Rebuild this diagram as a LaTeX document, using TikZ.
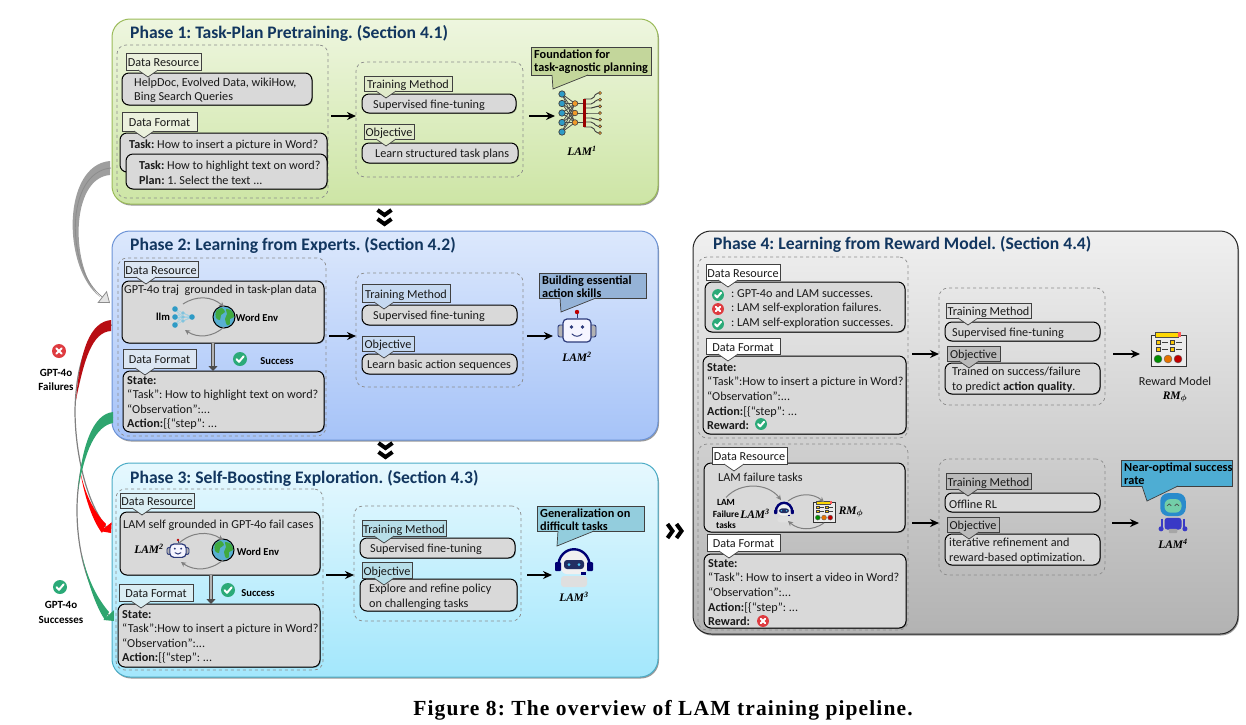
\documentclass[tikz,border=0pt]{standalone}
\usepackage{amsmath, amssymb}
\usepackage{fontspec}
\setmainfont{Carlito}
\newfontfamily\capfont{Liberation Serif}
\newfontfamily\bigcapfont[LetterSpace=5.2]{Liberation Serif}
\usetikzlibrary{arrows, arrows.meta, positioning, shadows}
\frenchspacing

\definecolor{titleblue}{HTML}{12365F}
\definecolor{okgreen}{HTML}{2BAA78}
\definecolor{badred}{HTML}{DE3B40}
\definecolor{navy}{HTML}{2C3A7A}
\definecolor{netblue}{HTML}{2E9BC6}
\definecolor{netorange}{HTML}{F09A2A}
\definecolor{flowred}{HTML}{D80F16}
\definecolor{flowgreen}{HTML}{2FA56F}
\definecolor{limetop}{HTML}{EEF6DF}
\definecolor{limebot}{HTML}{CDE5A5}
\definecolor{limeline}{HTML}{9BBB59}
\definecolor{limesay}{HTML}{C3D69B}
\definecolor{limetag}{HTML}{EBF1DD}
\definecolor{limetagb}{HTML}{E1EBCB}
\definecolor{bluetop}{HTML}{DCE8FC}
\definecolor{bluebot}{HTML}{A6C3F8}
\definecolor{blueline}{HTML}{6C93D6}
\definecolor{bluesay}{HTML}{95B3D7}
\definecolor{bluetag}{HTML}{DCE6F2}
\definecolor{bluetagb}{HTML}{C6D9F1}
\definecolor{cyantop}{HTML}{E6F8FE}
\definecolor{cyanbot}{HTML}{A3E7FC}
\definecolor{cyanline}{HTML}{4BACC6}
\definecolor{cyansay}{HTML}{93CDDD}
\definecolor{cyantag}{HTML}{DAEEF3}
\definecolor{cyantagb}{HTML}{B7DEE8}
\definecolor{skysay}{HTML}{4EADD3}

\tikzset{
    okicon/.pic={
        \fill[okgreen] (0,0) circle (7);
        \draw[white, line width=2pt, line cap=round, line join=round] (-3.4,.2) -- (-1,2.8) -- (3.6,-2.6);
    },
    badicon/.pic={
        \fill[badred] (0,0) circle (7);
        \draw[white, line width=2pt, line cap=round] (-2.6,-2.6) -- (2.6,2.6) (-2.6,2.6) -- (2.6,-2.6);
    },
    globeicon/.pic={
        \fill[netblue!80] (0,0) circle (11);
        \fill[green!55!black!75] plot[smooth cycle] coordinates {(-8,-6) (-2,-9) (1,-5) (-3,-2) (-4,3) (-8,1)};
        \fill[green!55!black!75] plot[smooth cycle] coordinates {(2,-8) (8,-6) (10,0) (6,2) (6,7) (3,8) (1,2) (3,-3)};
        \draw[black, line width=1pt] (0,0) circle (11);
    },
    neticon/.pic={
        \foreach \ya in {-19,-9.5,0,9.5,19}
            \foreach \yb in {-9.5,0,9.5}
                \draw[black!70, line width=.8pt] (-20,\ya) -- (-7,\yb);
        \foreach \yb in {-9.5,0,9.5}
            \draw[black!70, line width=.8pt] (-7,\yb) -- (2,\yb);
        \foreach \ya/\yc in {-14/-20,-9/-13.3,-5/-6.7,0/0,5/6.7,9/13.3,14/20}
            \draw[black!75, line width=.9pt, rounded corners=2] (2,\ya) -- (11,\ya) -- (14,\yc) -- (18,\yc);
        \foreach \ya in {-19,-9.5,0,9.5,19}
            \filldraw[fill=netblue, draw=black!75, line width=.7pt] (-20,\ya) circle (3.2);
        \foreach \yb in {-9.5,0,9.5}
            \filldraw[fill=netorange, draw=black!75, line width=.6pt] (-7,\yb) circle (2.8);
        \foreach \yc in {-20,-13.3,-6.7,0,6.7,13.3,20}
            \filldraw[fill=netorange, draw=black!75, line width=.5pt] (18,\yc) circle (1.6);
        \fill[red!60!black] (.5,-14) rectangle (3.5,14);
    },
    llmicon/.pic={
        \foreach \ya in {-8,0,8}
            \foreach \yb in {-4,0,4}
                \draw[netblue!45, line width=.6pt] (-8,\ya) -- (0,\yb) -- (9,0);
        \foreach \ya in {-8,0,8} \fill[netblue] (-8,\ya) circle (2.8);
        \foreach \yb in {-4,0,4} \fill[netblue!60] (0,\yb) circle (1.9);
        \fill[netblue] (9,0) circle (2.8);
    },
    boticon/.pic={
        \draw[navy, line width=.9pt] (0,-13) -- (0,-18);
        \fill[red!75!black] (0,-19) circle (2.2);
        \filldraw[fill=gray!60, draw=navy, line width=.9pt, rounded corners=2] (-19,-6) rectangle (19,6);
        \filldraw[fill=blue!4, draw=navy, line width=1.2pt, rounded corners=4] (-14,-12) rectangle (14,11);
        \fill[navy] (-5.5,-4) circle (1.8) (5.5,-4) circle (1.8);
        \draw[navy, line width=1pt, line cap=round] (-5,3) .. controls (-2,6) and (2,6) .. (5,3);
    },
    headseticon/.pic={
        \fill[gray!25, rounded corners=3] (-13,11) rectangle (13,22);
        \fill[gray!12, rounded corners=6] (-13,-14) rectangle (13,9);
        \draw[blue!45!black, line width=2.4pt] (-16,3) .. controls (-16,-22) and (16,-22) .. (16,3);
        \fill[blue!45!black, rounded corners=1] (-19,-3) rectangle (-13,6) (13,-3) rectangle (19,6);
        \fill[navy!80!black, rounded corners=3] (-10,-5) rectangle (10,4);
        \fill[cyan!70!white] (-5,-.5) circle (1.5) (5,-.5) circle (1.5);
        \fill[blue!45!black] (7,7) rectangle (12,9.5);
    },
    blueicon/.pic={
        \draw[blue!55!gray, line width=1.2pt] (-13,16) -- (-13,28) (13,16) -- (13,28);
        \fill[blue!55!gray] (-14,28) circle (3) (14,28) circle (3);
        \fill[blue!55!gray, rounded corners=3] (-10,15) rectangle (10,29);
        \fill[gray!70, rounded corners=1] (-5,28) rectangle (5,33);
        \fill[netblue!90!blue, rounded corners=8] (-15,-14) rectangle (15,13);
        \fill[cyan!30!green!55!white, rounded corners=6] (-10,-7) rectangle (10,9);
        \draw[black!70, line width=.7pt] (-7,1) .. controls (-6,-2) and (-3,-2) .. (-2,1) (2,1) .. controls (3,-2) and (6,-2) .. (7,1);
    },
    rmicon/.pic={
        \filldraw[fill=gray!15, draw=black!80, line width=.8pt] (-17,-15) rectangle (18,16);
        \filldraw[fill=yellow!75!orange, draw=black!70, line width=.5pt] (-13,-18) rectangle (10,-13);
        \fill[red!65] (10,-18) rectangle (13,-13);
        \foreach \ya in {-8,-1}
            \foreach \xa in {-12,2} {
                \filldraw[fill=yellow!60!orange, draw=black!75, line width=.4pt] (\xa,\ya-2) rectangle (\xa+4,\ya+2);
                \draw[black!75, line width=.8pt] (\xa+6,\ya) -- (\xa+12,\ya);
            }
        \filldraw[fill=green!55!black, draw=black!60, line width=.4pt] (-10,9) circle (4);
        \filldraw[fill=orange!90!black, draw=black!60, line width=.4pt] (0,9) circle (4);
        \filldraw[fill=red!75!black, draw=black!60, line width=.4pt] (10,9) circle (4);
    },
    chevrons/.pic={
        \draw[black, line width=4pt, miter limit=5] (-7,-8) -- (0,-3) -- (7,-8) (-7,1) -- (0,6) -- (7,1);
    }
}

% small label with a pointer, on top of a grey box
\newcommand{\tagnote}[7]{
    \node[tagbox, fill=#2, minimum width=#5pt, minimum height=#6pt] (#1) at (#3,#4) {#7};
    \path[fill=#2, draw=black!75, line width=.7pt] ([xshift=12]#1.south west) -- ([xshift=22, yshift=-7]#1.south west) -- ([xshift=32]#1.south west);
}
% big note with a long pointer, tip at #7,#8
\newcommand{\saynote}[9]{
    \node[saybox, fill=#2, minimum width=#5pt, minimum height=#6pt] (#1) at (#3,#4) {};
    \node[saytext] (#1text) at ([shift={(3,3)}]#1.north west) {#9};
    \path[fill=#2, draw=black!75, line width=.7pt] ([xshift=21]#1.south west) -- (#7,#8) -- ([xshift=57]#1.south west);
}
\newcommand{\itembox}[7]{
    \node[itembox, minimum width=#4pt, minimum height=#5pt] (#1) at (#2,#3) {};
    \node[itemtext, anchor=west] (#1text) at ([xshift=#6, yshift=-1.5]#1.west) {#7};
}
\newcommand{\groupbox}[5]{
    \node[groupbox, minimum width=#4pt, minimum height=#5pt] (#1) at (#2,#3) {};
}
\newcommand{\lamname}[1]{{\capfont\fontsize{11.5}{13}\selectfont\bfseries\itshape LAM\textsuperscript{#1}}}
\newcommand{\rmname}{{\capfont\fontsize{11.5}{13}\selectfont\bfseries\itshape RM\textsubscript{$\boldsymbol\phi$}}}

\begin{document}
\begin{tikzpicture}[x=1pt, y=-1pt, >={Stealth[length=9pt, width=8pt]}]
    \tikzstyle{panel} = [draw, anchor=north west, rounded corners=18, line width=1pt, inner sep=0, outer sep=0,
        drop shadow={shadow xshift=1pt, shadow yshift=-1.5pt, opacity=.4, fill=black}]
    \tikzstyle{phasetitle} = [anchor=west, inner sep=0, text=titleblue, font=\fontsize{17.6}{20}\selectfont\bfseries]
    \tikzstyle{groupbox} = [draw=black!45, dashed, anchor=north west, rounded corners=9, line width=.7pt, inner sep=0, outer sep=0]
    \tikzstyle{itembox} = [draw=black, fill=black!15, anchor=north west, rounded corners=7, line width=1pt, inner sep=0, outer sep=0,
        drop shadow={shadow xshift=.8pt, shadow yshift=-.8pt, opacity=.3, fill=black}]
    \tikzstyle{itemtext} = [inner sep=0, align=left, text=black!90, font=\fontsize{12.2}{14.6}\selectfont]
    \tikzstyle{tagbox} = [draw=black!75, anchor=north west, line width=.9pt, inner sep=0, outer sep=0, text=black!90, text height=10pt, text depth=0pt,
        font=\fontsize{12.2}{12}\selectfont, drop shadow={shadow xshift=.8pt, shadow yshift=-.8pt, opacity=.35, fill=black}]
    \tikzstyle{saybox} = [draw=black!75, anchor=north west, line width=.9pt, inner sep=0, outer sep=0,
        drop shadow={shadow xshift=.8pt, shadow yshift=-.8pt, opacity=.35, fill=black}]
    \tikzstyle{saytext} = [anchor=north west, inner sep=0, align=left, font=\fontsize{12.3}{12.2}\selectfont\bfseries]
    \tikzstyle{flow} = [->, line width=2pt, black]
    \tikzstyle{loopflow} = [-{Stealth[length=5pt, width=5pt]}, line width=1pt, draw=black!50]
    \tikzstyle{dropflow} = [-{Triangle[length=5pt, width=9pt]}, line width=4.6pt, draw=black!70]
    \tikzstyle{dropcore} = [line width=2.6pt, draw=black!30, shorten >=5pt]
    \tikzstyle{spot} = [inner sep=0, outer sep=0]
    \tikzstyle{boldtext} = [inner sep=0, align=center, font=\fontsize{10.6}{11.6}\selectfont\bfseries]
    \tikzstyle{sidetext} = [inner sep=0, align=center, font=\fontsize{11}{14.6}\selectfont\bfseries]
    \useasboundingbox (0,0) rectangle (1246,724);

    % Phase 1
    \node[panel, draw=limeline, top color=limetop, bottom color=limebot, minimum width=546pt, minimum height=185pt] (phase1) at (112,19) {};
    \node[phasetitle] (title1) at (130,33) {Phase 1: Task-Plan Pretraining. (Section 4.1)};
    \groupbox{p1left}{117}{45}{211}{153}
    \groupbox{p1right}{356}{62}{167}{115}
    \itembox{p1res}{122}{73}{190}{32}{12}{HelpDoc, Evolved Data, wikiHow,\\Bing Search Queries}
    \tagnote{p1restag}{limetag}{126}{53}{75}{17}{Data Resource}
    \itembox{p1back}{120}{133}{207}{39}{9}{}
    \node[itemtext, anchor=west] (p1backtext) at (129,145) {\textbf{Task:} How to insert a picture in Word?};
    \tagnote{p1fmttag}{limetag}{122}{112}{75}{19}{Data Format}
    \itembox{p1fmt}{126}{154}{201}{35}{13}{\textbf{Task:} How to highlight text on word?\\\textbf{Plan:} 1. Select the text ...}
    \itembox{p1meth}{362}{94}{154}{19}{11}{Supervised fine-tuning}
    \tagnote{p1methtag}{limetagb}{364}{76}{88}{15}{Training Method}
    \itembox{p1obj}{362}{143}{156}{20}{13}{Learn structured task plans}
    \tagnote{p1objtag}{limetagb}{364}{124}{50}{15}{Objective}
    \saynote{p1say}{limesay}{531}{47}{120}{28}{553}{89}{Foundation for\\task-agnostic planning}
    \node[spot, minimum width=54pt, minimum height=44pt] (lam1) at (582,113) {};
    \pic at (lam1) {neticon};
    \node[spot, below=11pt of lam1] (lam1name) {\lamname{1}};
    \coordinate (p1mid) at (0,116);
    \draw[flow] ([xshift=3]p1left.east |- p1mid) -- (p1right.west |- p1mid);
    \draw[flow] ([xshift=6]p1right.east |- p1mid) -- (lam1.west |- p1mid);

    \pic (chev1) at (384.5,218) {chevrons};

    % Phase 2
    \node[panel, draw=blueline, top color=bluetop, bottom color=bluebot, minimum width=546pt, minimum height=209pt] (phase2) at (112,231) {};
    \node[phasetitle] (title2) at (130,245) {Phase 2: Learning from Experts. (Section 4.2)};
    \groupbox{p2left}{118}{258}{208}{178}
    \groupbox{p2right}{356}{273}{167}{114}
    \itembox{p2res}{122}{281}{202}{62}{3}{}
    \node[itemtext, anchor=west] (p2restext) at (124,290) {GPT-4o traj\ \ grounded in task-plan data};
    \tagnote{p2restag}{bluetag}{124}{261}{74}{16}{Data Resource}
    \node[spot, minimum width=24pt, minimum height=22pt] (p2llm) at (183,317) {};
    \pic at (p2llm) {llmicon};
    \node[boldtext] (p2llmname) at (163,317) {llm};
    \node[spot, minimum size=22pt] (p2env) at (224,317) {};
    \pic at (p2env) {globeicon};
    \node[boldtext] (p2envname) at (257,318) {Word Env};
    \draw[loopflow, bend left=38] ([yshift=2]p2llm.north) to ([yshift=-1]p2env.north);
    \draw[loopflow, bend left=38] ([yshift=1]p2env.south) to ([yshift=-2,xshift=2]p2llm.south);
    \itembox{p2fmt}{123}{371}{201}{61}{4}{\textbf{State:}\\“Task”: How to highlight text on word?\\“Observation”:...\\\textbf{Action:}[\{“step”: ...}
    \tagnote{p2fmttag}{bluetag}{123}{349}{73}{19}{Data Format}
    \coordinate (p2drop) at (213,0);
    \draw[dropflow] (p2drop |- p2res.south) -- (p2drop |- p2fmt.north);
    \draw[dropcore] (p2drop |- p2res.south) -- (p2drop |- p2fmt.north);
    \pic (p2ok) at (240,359) {okicon};
    \node[boldtext] (p2oktext) at (277,361) {Success};
    \itembox{p2meth}{362}{305}{155}{20}{11}{Supervised fine-tuning}
    \tagnote{p2methtag}{bluetagb}{362}{284}{88}{18}{Training Method}
    \itembox{p2obj}{362}{354}{155}{20}{5}{Learn basic action sequences}
    \tagnote{p2objtag}{bluetagb}{362}{336}{52}{15}{Objective}
    \saynote{p2say}{bluesay}{539}{273}{107}{25}{561}{312}{Building essential\\action skills}
    \node[spot, minimum width=48pt, minimum height=40pt] (lam2) at (577,331) {};
    \pic at (lam2) {boticon};
    \node[spot, below=1pt of lam2] (lam2name) {\lamname{2}};
    \coordinate (p2mid) at (0,336);
    \draw[flow] ([xshift=3]p2left.east |- p2mid) -- (p2right.west |- p2mid);
    \draw[flow] ([xshift=4]p2right.east |- p2mid) -- (lam2.west |- p2mid);

    \pic (chev2) at (385.5,451) {chevrons};

    % Phase 3
    \node[panel, draw=cyanline, top color=cyantop, bottom color=cyanbot, minimum width=546pt, minimum height=214pt] (phase3) at (112,463) {};
    \node[phasetitle] (title3) at (130,478) {Phase 3: Self-Boosting Exploration. (Section 4.3)};
    \groupbox{p3left}{116}{489}{207}{181}
    \groupbox{p3right}{354}{506}{167}{115}
    \itembox{p3res}{120}{512}{200}{63}{3}{}
    \node[itemtext, anchor=west] (p3restext) at (123,525) {LAM self grounded in GPT-4o fail cases};
    \tagnote{p3restag}{cyantag}{120}{493}{74}{15}{Data Resource}
    \node[spot] (p3lamname) at (149,549) {\lamname{2}};
    \node[spot, minimum size=18pt] (p3bot) at (178,551) {};
    \pic[scale=.58] at (p3bot) {boticon};
    \node[spot, minimum size=22pt] (p3env) at (223,550) {};
    \pic at (p3env) {globeicon};
    \node[boldtext] (p3envname) at (258,552) {Word Env};
    \draw[loopflow, bend left=38] ([yshift=-2]p3bot.north) to ([yshift=-1]p3env.north);
    \draw[loopflow, bend left=38] ([yshift=1]p3env.south) to ([xshift=3,yshift=-2]p3bot.south);
    \itembox{p3fmt}{118}{604}{202}{63}{4}{\textbf{State:}\\“Task”:How to insert a picture in Word?\\“Observation”:...\\\textbf{Action:}[\{“step”: ...}
    \tagnote{p3fmttag}{cyantag}{119}{584}{74}{17}{Data Format}
    \coordinate (p3drop) at (211,0);
    \draw[dropflow] (p3drop |- p3res.south) -- (p3drop |- p3fmt.north);
    \draw[dropcore] (p3drop |- p3res.south) -- (p3drop |- p3fmt.north);
    \pic (p3ok) at (228,590) {okicon};
    \node[boldtext] (p3oktext) at (258,593) {Success};
    \itembox{p3meth}{360}{538}{155}{20}{10}{Supervised fine-tuning}
    \tagnote{p3methtag}{cyantagb}{362}{520}{84}{16}{Training Method}
    \itembox{p3obj}{360}{579}{157}{32}{9}{Explore and refine policy\\on challenging tasks}
    \tagnote{p3objtag}{cyantagb}{362}{562}{50}{16}{Objective}
    \saynote{p3say}{cyansay}{537}{506}{107}{25}{557}{546}{Generalization on\\difficult tasks}
    \node[spot, minimum width=44pt, minimum height=44pt] (lam3) at (574,565) {};
    \pic at (lam3) {headseticon};
    \node[spot, below=5pt of lam3] (lam3name) {\lamname{3}};
    \coordinate (p3mid) at (0,575);
    \draw[flow] ([xshift=3]p3left.east |- p3mid) -- (p3right.west |- p3mid);
    \draw[flow] ([xshift=6]p3right.east |- p3mid) -- (lam3.west |- p3mid);

    \pic[rotate=90] (chev3) at (675.5,531) {chevrons};

    % Phase 4
    \node[panel, draw=black!85, top color=black!6, bottom color=black!30, minimum width=545pt, minimum height=403pt] (phase4) at (693,231) {};
    \node[phasetitle] (title4) at (713,244) {Phase 4: Learning from Reward Model. (Section 4.4)};
    \groupbox{p4upleft}{698}{257}{210}{181}
    \groupbox{p4upright}{939}{288}{166}{117}
    \itembox{p4upres}{705}{282}{200}{50}{26}{: GPT-4o and LAM successes.\\: LAM self-exploration failures.\\: LAM self-exploration successes.}
    \tagnote{p4upnote}{white}{706}{264}{74}{16}{Data Resource}
    \pic[scale=.85] (p4ok1) at (718,295) {okicon};
    \pic[scale=.85] (p4bad) at (718,309) {badicon};
    \pic[scale=.85] (p4ok2) at (718,324) {okicon};
    \itembox{p4upfmt}{703}{356}{203}{78}{4}{\textbf{State:}\\“Task”:How to insert a picture in Word?\\“Observation”:...\\\textbf{Action:}[\{“step”: ...\\\textbf{Reward:}}
    \tagnote{p4upfmttag}{white}{706}{338}{74}{16}{Data Format}
    \pic[scale=.85] (p4upreward) at (761,424) {okicon};
    \itembox{p4upmeth}{945}{322}{155}{19}{7}{Supervised fine-tuning}
    \tagnote{p4upmethtag}{black!12}{946}{303}{85}{15}{Training Method}
    \itembox{p4upobj}{945}{363}{155}{31}{7}{Trained on success/failure\\to predict \textbf{action quality}.}
    \tagnote{p4upobjtag}{black!27}{947}{346}{53}{15}{Objective}
    \node[spot, minimum width=56pt, minimum height=38pt] (rmodel) at (1168,350) {};
    \pic at (rmodel) {rmicon};
    \node[itemtext, align=center] (rmodelname) at (1175,381) {Reward Model};
    \node[spot] (rmodelsym) at (1175,397) {\rmname};
    \coordinate (p4upmid) at (0,354);
    \draw[flow] ([xshift=4]p4upleft.east |- p4upmid) -- (p4upright.west |- p4upmid);
    \draw[flow] ([xshift=8]p4upright.east |- p4upmid) -- (rmodel.west |- p4upmid);

    \groupbox{p4lowleft}{698}{444}{210}{186}
    \groupbox{p4lowright}{939}{459}{166}{116}
    \itembox{p4lowres}{704}{463}{201}{69}{3}{}
    \node[itemtext, anchor=west] (p4lowrestext) at (718,477) {LAM failure tasks};
    \tagnote{p4lowrestag}{white}{712}{447}{75}{17}{Data Resource}
    \node[boldtext, font=\fontsize{9.4}{11.3}\selectfont\bfseries] (p4fail) at (726,514) {LAM\\Failure\\tasks};
    \node[spot] (p4lamname) at (755,514) {\lamname{3}};
    \node[spot, minimum size=22pt] (p4bot) at (784,511) {};
    \pic[scale=.52] at (p4bot) {headseticon};
    \node[spot, minimum width=24pt, minimum height=24pt] (p4rm) at (824,512) {};
    \pic[scale=.62] at (p4rm) {rmicon};
    \node[spot] (p4rmname) at (851,512) {\rmname};
    \draw[loopflow, bend left=50] ([yshift=2]p4fail.north) to ([xshift=-3]p4bot.north);
    \draw[loopflow, bend left=38] ([xshift=4,yshift=-1]p4bot.north) to ([yshift=-2]p4rm.north);
    \draw[loopflow, bend left=38] ([yshift=1]p4rm.south) to ([xshift=4,yshift=1]p4bot.south);
    \itembox{p4lowfmt}{704}{554}{202}{74}{4}{\textbf{State:}\\“Task”: How to insert a video in Word?\\“Observation”:...\\\textbf{Action:}[\{“step”: ...\\\textbf{Reward:}}
    \tagnote{p4lowfmttag}{white}{707}{534}{73}{17}{Data Format}
    \pic[scale=.85] (p4lowreward) at (763,621) {badicon};
    \itembox{p4lowmeth}{945}{493}{155}{19}{4}{Offline RL}
    \tagnote{p4lowmethtag}{black!27}{946}{473}{85}{16}{Training Method}
    \itembox{p4lowobj}{945}{534}{155}{31}{4}{iterative refinement and\\reward-based optimization.}
    \tagnote{p4lowobjtag}{black!27}{947}{517}{52}{15}{Objective}
    \saynote{p4say}{skysay}{1121}{460}{111}{26}{1147}{501}{Near-optimal success\\rate}
    \node[spot, minimum width=68pt, minimum height=40pt] (lam4) at (1173,513) {};
    \pic[scale=.85] at (1173,505) {blueicon};
    \node[spot, below=6pt of lam4] (lam4name) {\lamname{4}};
    \coordinate (p4lowmid) at (0,523);
    \draw[flow] ([xshift=4]p4lowleft.east |- p4lowmid) -- (p4lowright.west |- p4lowmid);
    \draw[flow] ([xshift=7]p4lowright.east |- p4lowmid) -- (lam4.west |- p4lowmid);

    % side arrows
    \pic (failicon) at (59,351) {badicon};
    \node[sidetext] (failtext) at (56,380) {GPT-4o\\Failures};
    \pic (winicon) at (60,587) {okicon};
    \node[sidetext] (wintext) at (61,612.5) {GPT-4o\\Successes};

    \coordinate (graystart) at (111,168);
    \coordinate (grayend) at (110,303);
    \fill[black!38] (110,161) .. controls (62,165) and (62,268) .. (100,297) .. controls (70,268) and (70,178) .. (110,175) -- cycle;
    \draw[-{Triangle[open, fill=black!10, length=10pt, width=15pt]}, line width=.8pt, draw=black!45] (graystart) .. controls (65,172) and (65,268) .. (grayend);

    \coordinate (redstart) at (112,325);
    \coordinate (redend) at (111,533);
    \draw[-{Triangle[length=8pt, width=14pt, color=red]}, line width=1.2pt, draw=black!50] (redstart) .. controls (85,330) and (76,370) .. (75,410) .. controls (75,450) and (85,500) .. (redend);
    \fill[flowred!85!black] (111,320) .. controls (90,322) and (80,350) .. (76,400) .. controls (84,360) and (92,332) .. (111,331) -- cycle;
    \fill[red] (80,470) .. controls (84,490) and (92,510) .. (106,524) -- (102,533) .. controls (92,520) and (84,495) .. (80,470) -- cycle;

    \coordinate (greenstart) at (113,417);
    \coordinate (greenend) at (114,621);
    \draw[-{Triangle[length=8pt, width=14pt, color=flowgreen]}, line width=1.2pt, draw=black!50] (greenstart) .. controls (90,420) and (77,470) .. (77,510) .. controls (77,555) and (90,595) .. (greenend);
    \fill[flowgreen] (113,412) .. controls (93,414) and (82,445) .. (78,490) .. controls (85,450) and (96,426) .. (113,423) -- cycle;
    \fill[flowgreen] (82,555) .. controls (88,580) and (97,598) .. (109,612) -- (105,620) .. controls (95,605) and (87,580) .. (82,555) -- cycle;

    \node[inner sep=0, font=\bigcapfont\fontsize{21.5}{24}\selectfont\bfseries] (figcaption) at (663,710) {Figure 8: The overview of LAM training pipeline.};
\end{tikzpicture}
\end{document}
